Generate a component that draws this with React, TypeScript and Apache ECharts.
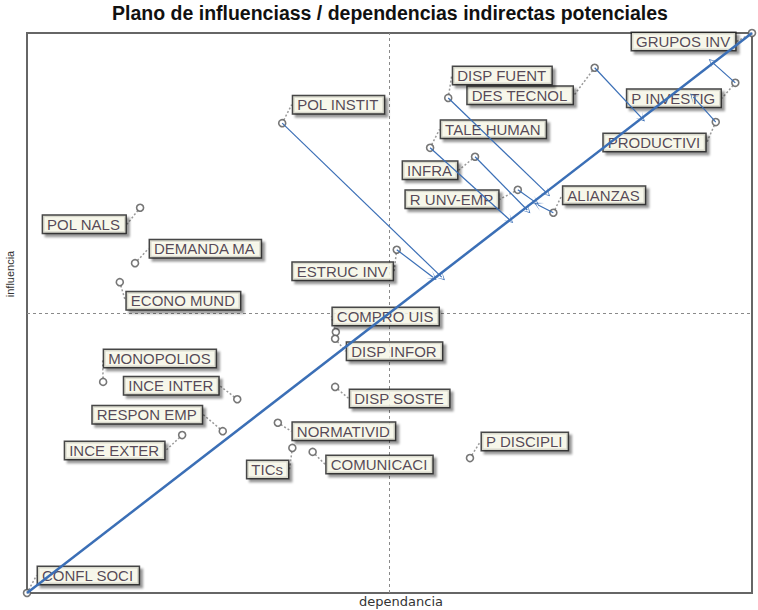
import React, { useEffect, useRef } from "react";
import * as echarts from "echarts";

const names = [
  "GRUPOS INV", "P INVESTIG", "PRODUCTIVI", "DES TECNOL", "DISP FUENT", "TALE HUMAN",
  "INFRA", "R UNV-EMP", "ALIANZAS", "POL INSTIT", "ESTRUC INV", "POL NALS",
  "DEMANDA MA", "ECONO MUND", "COMPRO UIS", "DISP INFOR", "DISP SOSTE", "NORMATIVID",
  "COMUNICACI", "TICs", "P DISCIPLI", "MONOPOLIOS", "INCE INTER", "RESPON EMP",
  "INCE EXTER", "CONFL SOCI",
];
const dependencia = [
  100, 97.7, 95.0, 78.3, 58.1, 55.6,
  61.8, 67.7, 72.6, 35.2, 51.0, 15.6,
  14.9, 12.8, 42.6, 42.5, 42.5, 34.6,
  39.4, 36.6, 61.1, 10.5, 29.0, 27.0,
  21.4, 0,
];
const influencia = [
  100, 91.1, 84.1, 93.8, 88.4, 79.5,
  77.9, 72.0, 67.9, 83.9, 61.3, 68.8,
  58.9, 55.5, 46.6, 45.4, 36.8, 30.4,
  25.2, 25.9, 24.1, 37.7, 34.6, 28.9,
  28.2, 0,
];

// displacement arrows: from variable position to new position
const arrowFrom = [
  "POL INSTIT", "ESTRUC INV", "DISP FUENT", "TALE HUMAN", "INFRA",
  "R UNV-EMP", "ALIANZAS", "DES TECNOL", "P INVESTIG", "PRODUCTIVI",
];
const arrowToX = [57.2, 56.0, 71.7, 66.6, 69.0, 70.1, 70.5, 84.8, 94.5, 91.9];
const arrowToY = [56.4, 56.4, 71.4, 66.6, 68.4, 69.8, 69.3, 84.8, 94.8, 88.6];

// quadrant separators
const midX = 50;
const midY = 50;

// label box offsets (px) from the point, top-left corner
const labelOffsets: [number, number][] = [
  [-120, 0], [-108, 7], [-112, 12], [-127, 19], [5, -31], [11, -27],
  [-72, 5], [-112, 1], [10, -26], [11, -27], [-104, 13], [-97, 8],
  [15, -23], [7, 10], [-3, -24], [12, 4], [15, 3], [15, 0],
  [14, 4], [-45, 13], [12, -25], [1, -32], [-113, -22], [-130, -25],
  [-117, 7], [11, -26],
];

export default function App() {
  const ref = useRef<HTMLDivElement>(null);
  useEffect(() => {
    if (!ref.current) return;
    const chart = echarts.init(ref.current, undefined, { renderer: "svg" });
    const blue = "#3b6fb6";
    const points = names.map((n, i) => [dependencia[i], influencia[i], n]);
    const arrows = arrowFrom.map((n, i) => {
      const k = names.indexOf(n);
      return { coords: [[dependencia[k], influencia[k]], [arrowToX[i], arrowToY[i]]] };
    });
    chart.setOption({
      animation: false,
      backgroundColor: "#ffffff",
      grid: {
        left: 27, right: 6, top: 33, bottom: 17,
        show: true, borderColor: "#666666", borderWidth: 2, backgroundColor: "transparent",
      },
      xAxis: {
        type: "value", min: 0, max: 100,
        axisLine: { show: false }, axisTick: { show: false }, axisLabel: { show: false },
        splitLine: { show: false },
      },
      yAxis: {
        type: "value", min: 0, max: 100,
        axisLine: { show: false }, axisTick: { show: false }, axisLabel: { show: false },
        splitLine: { show: false },
      },
      graphic: [
        {
          type: "text", x: 390, y: 3,
          style: {
            text: "Plano de influenciass / dependencias indirectas potenciales",
            textAlign: "center",
            font: "bold 19.5px 'Liberation Sans', Arial, sans-serif", fill: "#111",
          },
        },
        {
          type: "text", x: 401, y: 595,
          style: {
            text: "dependancia", textAlign: "center",
            font: "13px 'DejaVu Sans', sans-serif", fill: "#333",
          },
        },
        {
          type: "text", x: 10, y: 274, rotation: Math.PI / 2,
          style: {
            text: "influencia", textAlign: "center", textVerticalAlign: "middle",
            font: "11px 'Liberation Sans', Arial, sans-serif", fill: "#333",
          },
        },
      ],
      series: [
        {
          type: "line",
          z: 1,
          data: [],
          markLine: {
            z: 1,
            silent: true,
            symbol: "none",
            label: { show: false },
            lineStyle: { color: "#8a8a8a", type: [3, 3], width: 1 },
            data: [{ xAxis: midX }, { yAxis: midY }],
          },
        },
        {
          type: "scatter",
          z: 2,
          data: points,
          symbol: "circle",
          symbolSize: 7,
          itemStyle: { color: "#ffffff", borderColor: "#555", borderWidth: 1.6 },
          label: {
            show: true,
            formatter: (p: any) => p.data[2],
            fontFamily: "'Liberation Sans', Arial, sans-serif",
            fontSize: 15,
            lineHeight: 15,
            color: "#2b1830",
            backgroundColor: "#fffff0",
            borderColor: "#1a1a1a",
            borderWidth: 1.5,
            padding: [1, 5, 1, 4],
            shadowColor: "rgba(0,0,0,0.45)",
            shadowBlur: 2,
            shadowOffsetX: 3,
            shadowOffsetY: 3,
          },
          labelLine: {
            show: true,
            lineStyle: { color: "#9a9a9a", type: [2, 2], width: 1.5 },
          },
          labelLayout: (params: any) => {
            const o = labelOffsets[params.dataIndex];
            const cx = params.rect.x + params.rect.width / 2;
            const cy = params.rect.y + params.rect.height / 2;
            return { x: cx + o[0], y: cy + o[1], align: "left", verticalAlign: "top" };
          },
        },
        {
          type: "line",
          z: 10,
          data: [[0, 0], [100, 100]],
          showSymbol: false,
          symbol: "none",
          lineStyle: { color: blue, width: 2.5 },
          silent: true,
        },
        {
          type: "lines",
          coordinateSystem: "cartesian2d",
          z: 10,
          data: arrows,
          symbol: ["none", "path://M5,0 L10,10 L5,2 L0,10 Z"],
          symbolSize: 9,
          lineStyle: { color: blue, width: 1.2, opacity: 1 },
          silent: true,
        },
      ],
    });
    return () => chart.dispose();
  }, []);
  return (
    <div
      ref={ref}
      style={{ position: "fixed", left: 0, top: 0, width: 758, height: 610, background: "#fff" }}
    />
  );
}
